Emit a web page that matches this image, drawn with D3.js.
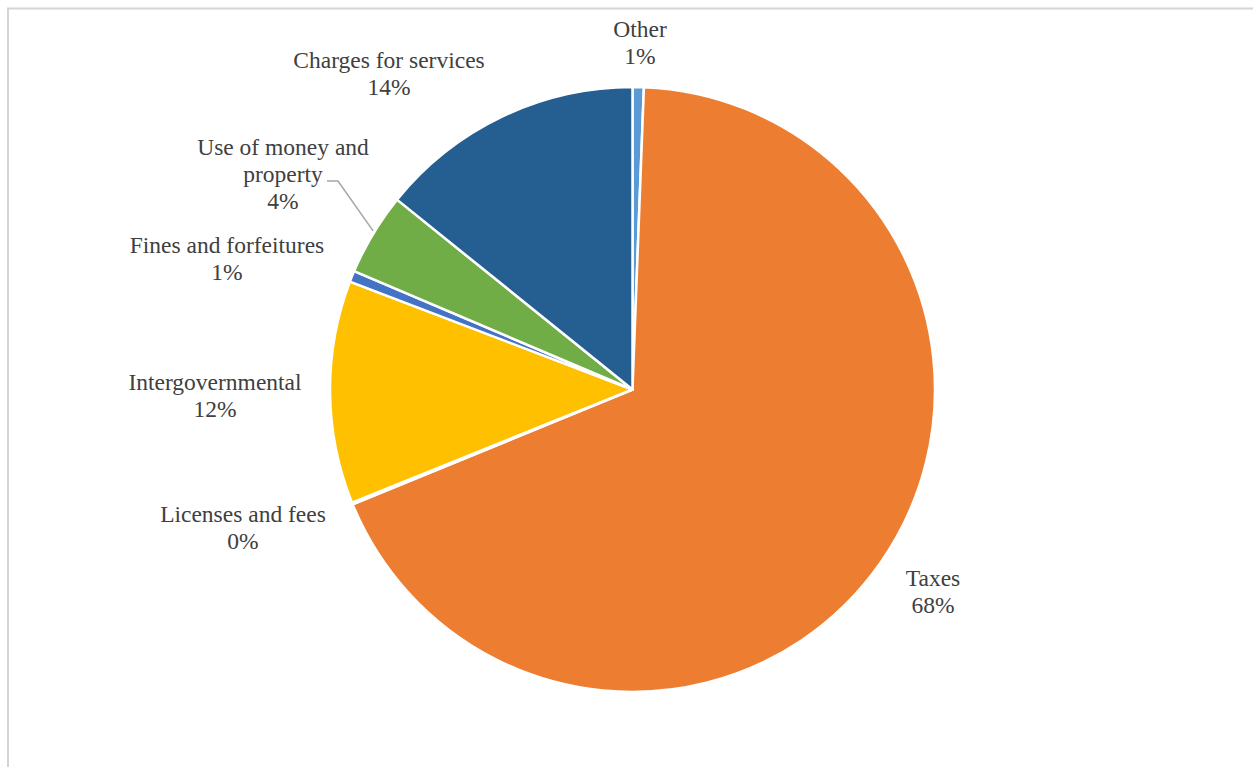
<!DOCTYPE html>
<html>
<head>
<meta charset="utf-8">
<script src="https://cdn.jsdelivr.net/npm/d3@7/dist/d3.min.js"></script>
<style>
  html, body { margin: 0; padding: 0; background: #ffffff; }
  svg { display: block; }
  .lbl { font-family: "Liberation Serif", "Times New Roman", "DejaVu Serif", serif; font-size: 23.5px; fill: #404040; }
</style>
</head>
<body>
<svg id="chart" width="1253" height="767"></svg>
<script>
// Revenue sources, shares of total (percent)
const categories = [
  "Other",
  "Taxes",
  "Licenses and fees",
  "Intergovernmental",
  "Fines and forfeitures",
  "Use of money and property",
  "Charges for services"
];
const shares = [0.6, 68.2, 0.1, 11.9, 0.6, 4.4, 14.2];

// Wrapped label lines for each category
const labelLines = [
  ["Other"],
  ["Taxes"],
  ["Licenses and fees"],
  ["Intergovernmental"],
  ["Fines and forfeitures"],
  ["Use of money and", "property"],
  ["Charges for services"]
];

// Slice colours (Office palette order)
const colors = ["#5B9BD5", "#ED7D31", "#A5A5A5", "#FFC000", "#4472C4", "#70AD47", "#255E91"];

// Layout
const width = 1253, height = 767;
const cx = 632.5, cy = 389.5, radius = 302.5;
const lineHeight = 27;
// label block anchors: centre x, baseline of first line
const labelAnchor = [
  [640, 37], [933, 586], [243, 522], [215, 390], [227, 253], [283, 155], [389, 68]
];

const svg = d3.select("#chart");

// chart area frame
svg.append("rect")
  .attr("x", 8).attr("y", 8.5)
  .attr("width", width + 20).attr("height", height + 20)
  .attr("fill", "#ffffff")
  .attr("stroke", "#D4D4D4")
  .attr("stroke-width", 2);

const data = categories.map((c, i) => ({ name: c, value: shares[i], i }));

const pie = d3.pie().value(d => d.value).sort(null);
const arcs = pie(data);
const arc = d3.arc().innerRadius(0).outerRadius(radius);

const g = svg.append("g").attr("transform", `translate(${cx},${cy})`);

g.selectAll("path.slice")
  .data(arcs)
  .join("path")
  .attr("class", "slice")
  .attr("d", arc)
  .attr("fill", d => colors[d.data.i])
  .attr("stroke", "#ffffff")
  .attr("stroke-width", 2.5)
  .attr("stroke-linejoin", "round");

// labels
const total = d3.sum(shares);
const labels = svg.append("g").attr("text-anchor", "middle");

arcs.forEach(a => {
  const i = a.data.i;
  const [x, y] = labelAnchor[i];
  const lines = labelLines[i].concat([Math.round(a.data.value / total * 100) + "%"]);
  const t = labels.append("text").attr("class", "lbl").attr("x", x).attr("y", y);
  lines.forEach((ln, j) => {
    t.append("tspan").attr("x", x).attr("y", y + j * lineHeight).text(ln);
  });
});

// leader line for "Use of money and property"
const useArc = arcs[5];
const mid = (useArc.startAngle + useArc.endAngle) / 2;
const ex = cx + radius * Math.sin(mid);
const ey = cy - radius * Math.cos(mid);
const [lx, ly] = labelAnchor[5];
const startY = ly + lineHeight - 1;
svg.append("path")
  .attr("d", d3.line()([[lx + 44, startY], [lx + 55, startY], [ex, ey - 3]]))
  .attr("fill", "none")
  .attr("stroke", "#A6A6A6")
  .attr("stroke-width", 1.5);
</script>
</body>
</html>
